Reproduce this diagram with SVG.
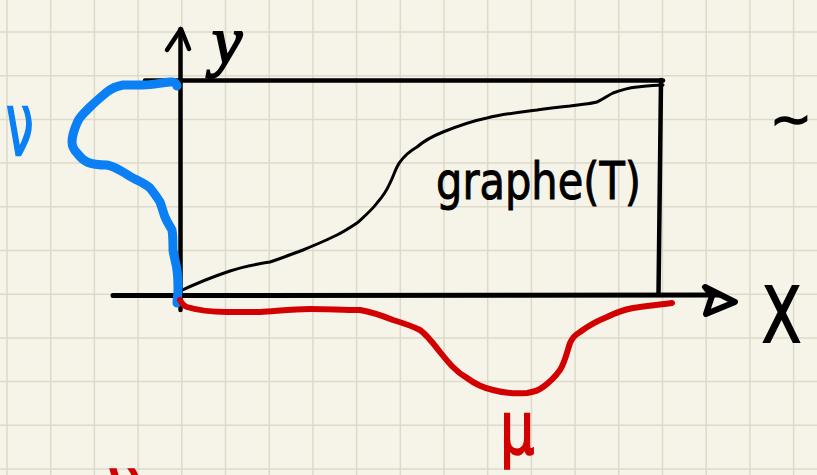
<svg xmlns="http://www.w3.org/2000/svg" width="817" height="475" viewBox="0 0 817 475">
<defs>
<style>
.grid line{stroke:#dddacb;stroke-width:1.5}
.ink{fill:none;stroke:#000;stroke-linecap:round;stroke-linejoin:round}
.blue{fill:none;stroke:#0a80f4;stroke-width:9;stroke-linecap:round;stroke-linejoin:round}
.red{fill:none;stroke:#d20000;stroke-width:6;stroke-linecap:round;stroke-linejoin:round}
.hand{font-family:"DejaVu Sans","Liberation Sans",sans-serif}
</style>
</defs>
<rect width="817" height="475" fill="#f6f4e8"/>
<g class="grid">
<line x1="7" y1="0" x2="7" y2="475"/><line x1="50.7" y1="0" x2="50.7" y2="475"/><line x1="94.4" y1="0" x2="94.4" y2="475"/><line x1="138.1" y1="0" x2="138.1" y2="475"/><line x1="181.8" y1="0" x2="181.8" y2="475"/><line x1="225.5" y1="0" x2="225.5" y2="475"/><line x1="269.2" y1="0" x2="269.2" y2="475"/><line x1="312.9" y1="0" x2="312.9" y2="475"/><line x1="356.6" y1="0" x2="356.6" y2="475"/><line x1="400.3" y1="0" x2="400.3" y2="475"/><line x1="444" y1="0" x2="444" y2="475"/><line x1="487.7" y1="0" x2="487.7" y2="475"/><line x1="531.4" y1="0" x2="531.4" y2="475"/><line x1="575.1" y1="0" x2="575.1" y2="475"/><line x1="618.8" y1="0" x2="618.8" y2="475"/><line x1="662.5" y1="0" x2="662.5" y2="475"/><line x1="706.2" y1="0" x2="706.2" y2="475"/><line x1="749.9" y1="0" x2="749.9" y2="475"/><line x1="793.6" y1="0" x2="793.6" y2="475"/>
<line x1="0" y1="32" x2="817" y2="32"/><line x1="0" y1="75.7" x2="817" y2="75.7"/><line x1="0" y1="119.4" x2="817" y2="119.4"/><line x1="0" y1="163.1" x2="817" y2="163.1"/><line x1="0" y1="206.8" x2="817" y2="206.8"/><line x1="0" y1="250.5" x2="817" y2="250.5"/><line x1="0" y1="294.2" x2="817" y2="294.2"/><line x1="0" y1="337.9" x2="817" y2="337.9"/><line x1="0" y1="381.6" x2="817" y2="381.6"/><line x1="0" y1="425.3" x2="817" y2="425.3"/><line x1="0" y1="469" x2="817" y2="469"/>
</g>
<g id="axes">
<path class="ink" stroke-width="4.5" d="M180.5 310 L180.5 29"/>
<path class="ink" stroke-width="4.5" d="M167 50 L181 29 L189 49"/>
<path class="ink" stroke-width="4.5" d="M145 80.5 L663 80.5"/>
<path class="ink" stroke-width="4.5" d="M661 80 L658.5 295"/>
<path class="ink" stroke-width="5" d="M113 295.5 L720 295"/>
<path class="ink" stroke-width="6" d="M705 287 L735 302 L706 314 L712 296 Z"/>
</g>
<g id="graph">
<path class="ink" stroke-width="3" d="M178 292 C195 284 212 277 230 271 C245 266 258 264 270 262 C282 258 292 254 303 250 C315 245 327 240 337 235 C345 231 351 227 357 223 C366 215 372 210 377 203 C384 195 387 190 390 183 C394 175 396 167 400 162 C405 155 410 151 417 147 C425 140 433 136 443 132 C458 126 472 121 487 118 C503 114 520 112 537 110 C550 108 560 107 570 106 C582 104 590 104 597 102 C604 99 607 96 613 93 C621 90 628 88 637 87 C646 86 654 85 663 85"/>
<text class="hand" x="436" y="199" font-size="52" textLength="205" lengthAdjust="spacingAndGlyphs" fill="#000" stroke="#000" stroke-width="1">graphe(T)</text>
</g>
<g id="nu">
<path class="blue" d="M177 86 C176 81 172 82 170 82 C160 83 152 85 143 85 C135 85 130 85 123 85 C117 86 112 88 107 92 C101 97 96 101 90 107 C84 113 79 117 77 123 C74 130 72 136 72 142 C72 147 74 150 77 153 C80 157 83 160 87 162 C94 165 100 165 107 165 C113 166 118 169 123 172 C128 175 132 178 137 180 C143 183 147 185 150 188 C154 193 157 197 160 202 C162 207 163 212 165 217 C167 222 170 226 172 230 C173 236 173 243 173 250 C174 257 176 263 177 270 C178 277 178 284 178 290 C178 295 177 299 177 303"/>
<text class="hand" x="6" y="155" font-size="58" fill="#0a80f4" stroke="#0a80f4" stroke-width="1.5" transform="translate(6 155) scale(0.85 1.5) translate(-6 -155)">ν</text>
</g>
<g id="mu">
<path class="red" d="M180 300 C182 304 184 306 187 307 C200 311 213 312 227 312 C238 312 249 312 260 312 C277 311 293 309 310 309 C327 309 343 310 360 310 C372 312 383 316 393 320 C403 323 412 326 420 330 C427 335 433 343 440 352 C448 362 456 372 467 378 C475 384 484 388 493 390 C504 393 515 394 527 393 C534 392 539 390 543 387 C550 382 555 377 560 370 C565 362 567 352 570 343 C572 338 575 335 580 332 C588 326 597 321 607 317 C615 313 623 310 633 308 C645 306 658 305 672 303"/>
<text class="hand" x="500" y="454" font-size="64" fill="#d20000" stroke="#d20000" stroke-width="1.5" transform="translate(500 454) scale(0.85 1.15) translate(-500 -454)">μ</text>
<text class="hand" x="108" y="502" font-size="60" fill="#d20000" stroke="#d20000" stroke-width="1.5">ν</text>
</g>
<g id="labels">
<text x="212" y="64" font-family="Liberation Serif, serif" font-style="italic" font-size="68" fill="#000" stroke="#000" stroke-width="2">y</text>
<text class="hand" x="762" y="342" font-size="76" fill="#000" stroke="#000" stroke-width="2" transform="translate(762 342) scale(0.75 1) translate(-762 -342)">X</text>
<text class="hand" x="770" y="136" font-size="50" fill="#000" stroke="#000" stroke-width="1.5">~</text>
</g>
</svg>
